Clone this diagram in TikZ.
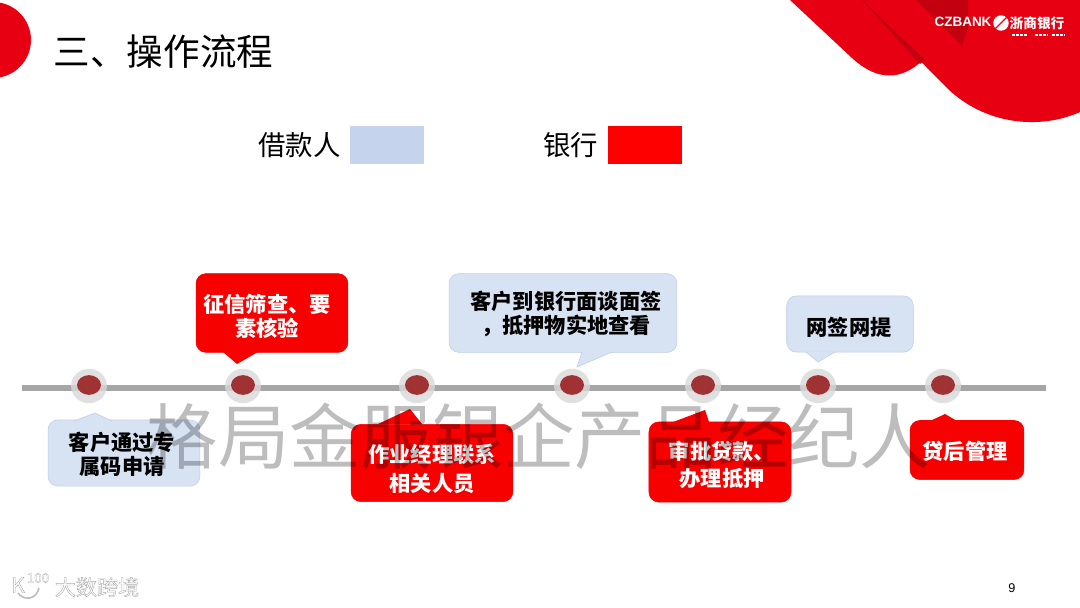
\documentclass[tikz,border=0pt]{standalone}
\usepackage{fontspec}
\setmainfont{Liberation Sans}
\newfontfamily\cjk{Noto Sans CJK SC}
\newfontfamily\cjkfat[FakeBold=2]{Noto Sans CJK SC}
\usepackage{xcolor}
\usepackage{tikz}
\usetikzlibrary{shapes,positioning,calc}

\definecolor{bankred}{HTML}{E60012}
\definecolor{darkred}{HTML}{C20010}
\definecolor{callred}{HTML}{F60000}
\definecolor{callblue}{HTML}{D7E2F3}
\definecolor{edgeblue}{HTML}{BCCFEA}
\definecolor{legendblue}{HTML}{C5D3EC}
\definecolor{dotred}{HTML}{A03234}

\begin{document}
\begin{tikzpicture}[
    x=0.025cm, y=-0.025cm,
    redbox/.style={rectangle, rounded corners=7pt, fill=callred, draw=callred, inner sep=0pt},
    bluebox/.style={rectangle, rounded corners=7pt, fill=callblue, draw=edgeblue, inner sep=0pt},
    calltext/.style={font=\cjk\bfseries\fontsize{15.1}{17}\selectfont, align=center, inner sep=0pt},
    redtip/.style={fill=callred},
    bluetip/.style={fill=callblue, draw=edgeblue},
    ring/.style={ellipse, minimum width=25.5pt, minimum height=24.5pt, inner sep=0pt, fill=black!15},
    dot/.style={ellipse, minimum width=17pt, minimum height=14pt, inner sep=0pt, fill=dotred},
    legend/.style={font=\cjk\fontsize{19.5}{22}\selectfont, inner sep=0pt},
    outlined/.style={text=white, inner sep=0pt}
]
\useasboundingbox (0,0) rectangle (1080,607);
\fill[white] (0,0) rectangle (1080,607);

% corner shapes
\fill[bankred] (-7,40) circle (38);
\fill[bankred] (790,0) -- (852,58) .. controls (878,82) and (902,80) .. (923,60) -- (940,20) -- (860,0) -- cycle;
\fill[bankred] (860,0) -- (947,88) .. controls (985,125) and (1040,130) .. (1080,112) -- (1080,0) -- cycle;
\fill[darkred] (862,0) -- (925,60) -- (920,64) -- cycle;
\fill[darkred] (916,0) -- (962,46) -- (968,28) -- (968,0) -- cycle;

% bank logo
\node[text=white, font=\bfseries\fontsize{9.6}{10}\selectfont, inner sep=0pt] (czbank) at (963,22) {CZBANK};
\node[fill=white, circle, minimum size=11pt, inner sep=0pt] (badge) at (1001,23) {};
\draw[bankred, line width=0.9pt] (badge.south west) -- (badge.north east);
\node[text=white, font=\cjk\bfseries\fontsize{9.7}{10}\selectfont, inner sep=0pt] (bankname) at (1037,23) {浙商银行};
\foreach \xstart/\xend in {1012/1027, 1035/1047, 1052/1064}
    \draw[white, line width=1pt, dash pattern=on 2pt off 0.8pt] (\xstart,35) -- (\xend,35);

% title and legend
\node[font=\cjk\fontsize{26}{28}\selectfont, inner sep=0pt] (title) at (163.5,52) {三、操作流程};
\node[legend] (lender) at (299.5,145) {借款人};
\node[fill=legendblue, minimum width=52.5pt, minimum height=27pt, inner sep=0pt] (lenderkey) at (387,145) {};
\node[legend] (bank) at (570.5,145) {银行};
\node[fill=red, minimum width=52.5pt, minimum height=27pt, inner sep=0pt] (bankkey) at (645,145) {};

% timeline
\coordinate (linestart) at (22,388);
\coordinate (lineend) at (1046,388);
\draw[line width=4.2pt, black!35] (linestart) -- (lineend);
\foreach \name/\xpos in {a/89, b/243, c/417, d/572, e/703, f/818, g/943} {
    \node[ring, opacity=0.8] (ring\name) at (\xpos,386) {};
    \node[dot] (dot\name) at (\xpos,385) {};
}

% callouts
\node[bluebox, minimum width=108pt, minimum height=47pt] (applybox) at (124,453) {};
\path[bluetip] (74,421) -- (95,413) -- (112,421);
\node[calltext] (apply) at (122,454.5) {客户通过专\\属码申请};
\node[redbox, minimum width=108pt, minimum height=56pt] (screenbox) at (272,313) {};
\path[redtip] (223,352) -- (237,364) -- (258,352) -- cycle;
\node[calltext, text=white] (screen) at (267,316) {征信筛查、要\\素核验};
\node[redbox, minimum width=115pt, minimum height=55pt] (contactbox) at (432,463) {};
\path[redtip] (378,424) -- (410,409) -- (422,424) -- cycle;
\node[calltext, text=white] (contact) at (432,469) {作业经理联系\\[3pt]相关人员};
\node[bluebox, minimum width=162pt, minimum height=56pt] (visitbox) at (563,313) {};
\path[bluetip] (582,352) -- (577,367) -- (612,352);
\node[calltext] (visit) at (566,313.5) {客户到银行面谈面签\\，抵押物实地查看};
\node[redbox, minimum width=101pt, minimum height=57pt] (approvebox) at (720,462) {};
\path[redtip] (673,422) -- (705,410) -- (709,422) -- cycle;
\node[calltext, text=white] (approve) at (722,465) {审批贷款、\\[2pt]办理抵押};
\node[bluebox, minimum width=90pt, minimum height=40pt] (onlinebox) at (850,324) {};
\path[bluetip] (806,352) -- (818,362) -- (835,352);
\node[calltext] (online) at (849,327) {网签网提};
\node[redbox, minimum width=81pt, minimum height=42pt] (afterbox) at (967,450) {};
\path[redtip] (930,421) -- (945,414) -- (957,421) -- cycle;
\node[calltext, text=white] (after) at (965,451) {贷后管理};

% overlay marks
\node[text=black, opacity=0.26, font=\cjk\fontsize{50.7}{54}\selectfont, inner sep=0pt] (mark) at (539,436) {格局金服银企产品经纪人};
\node[outlined, font=\cjkfat\fontsize{15}{16}\selectfont] (source) at (97,587) {\special{pdf:code 0.68 0.68 0.68 RG}大数跨境};
\node[outlined, font=\cjkfat\fontsize{15}{16}\selectfont] (logok) at (18,585) {\special{pdf:code 0.68 0.68 0.68 RG}K};
\node[outlined, font=\cjkfat\fontsize{9.5}{10}\selectfont] (lognum) at (38,578) {\special{pdf:code 0.68 0.68 0.68 RG}100};
\draw[black!25, line width=1.2pt] (logok.south) .. controls (24,601) and (36,600) .. (39,588);
\node[font=\fontsize{9}{10}\selectfont, inner sep=0pt] (page) at (1012,588) {9};
\end{tikzpicture}
\end{document}
